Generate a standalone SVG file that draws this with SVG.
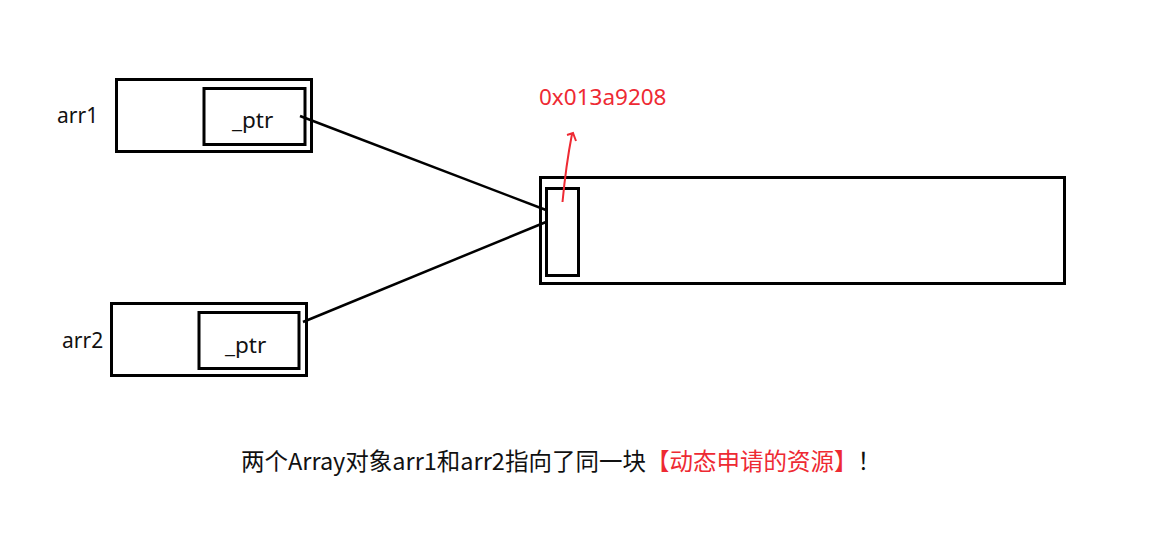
<svg xmlns="http://www.w3.org/2000/svg" width="1154" height="553" viewBox="0 0 1154 553">
<style>
.box{fill:none;stroke:#000;stroke-width:3}
.t{font-family:"Noto Sans","Noto Sans CJK SC",sans-serif;font-size:21px;fill:#111}
.p{font-size:22.5px}
.cn{font-family:"Noto Sans CJK SC","Noto Sans",sans-serif;font-size:23.5px;fill:#111}
.red{fill:#ee2a33}
.ln{stroke:#000;stroke-width:2.5;fill:none}
</style>
<rect width="1154" height="553" fill="#fff"/>
<g id="arr1">
<text class="t" x="57" y="123">arr1</text>
<rect class="box" x="116.5" y="79.5" width="195" height="72"/>
<rect class="box" x="204" y="88.5" width="101" height="56"/>
<text class="t p" x="232" y="128">_ptr</text>
</g>
<g id="arr2">
<text class="t" x="62" y="348">arr2</text>
<rect class="box" x="111.5" y="303.5" width="195" height="72"/>
<rect class="box" x="199" y="312.5" width="100" height="56"/>
<text class="t p" x="225" y="353">_ptr</text>
</g>
<g id="resource">
<rect class="box" x="540.5" y="177.5" width="524" height="106"/>
<rect class="box" x="546.5" y="188.5" width="32" height="87"/>
</g>
<g id="address">
<text class="t red" x="539" y="105" style="font-size:22.5px">0x013a9208</text>
</g>
<g id="connectors">
<path class="ln" d="M300 116 L546 210"/>
<path class="ln" d="M303 322 L546 222"/>
<path d="M562.5 202 Q566 165 572 134 M567 135 L573 133 L576 141" stroke="#ee2a33" stroke-width="2" fill="none"/>
</g>
<g id="caption">
<text class="cn" x="241" y="470">两个Array对象arr1和arr2指向了同一块<tspan class="red">【动态申请的资源】</tspan>！</text>
</g>
</svg>
